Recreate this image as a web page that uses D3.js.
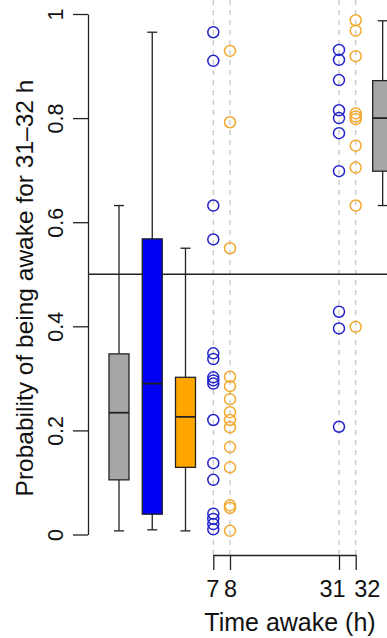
<!DOCTYPE html>
<html>
<head>
<meta charset="utf-8">
<script src="https://cdn.jsdelivr.net/npm/d3@7"></script>
<style>
  html, body { margin: 0; padding: 0; background: #fff; }
  svg { display: block; font-family: "Liberation Sans", Arial, Helvetica, sans-serif; }
</style>
</head>
<body>
<div id="chart"></div>
<script>
'use strict';

// box summaries: [lower whisker, q1, median, q3, upper whisker]
var boxNames = ["all", "blue", "orange", "right"];
var boxPos = [1, 2, 3, 8.93];
var boxStats = [
    [0.007, 0.105, 0.234, 0.347, 0.632],
    [0.009, 0.039, 0.290, 0.568, 0.965],
    [0.007, 0.129, 0.226, 0.302, 0.550],
    [0.632, 0.698, 0.800, 0.872, 0.987]
];
var boxColors = ["#a6a6a6", "#0000f5", "#ffa500", "#a6a6a6"];

// individual points at each time awake
var blue7 = [0.965, 0.910, 0.632, 0.567, 0.348, 0.337, 0.302, 0.296, 0.290, 0.220, 0.137, 0.105, 0.040, 0.030, 0.020, 0.010];
var orange8 = [0.929, 0.792, 0.550, 0.303, 0.285, 0.260, 0.235, 0.220, 0.206, 0.168, 0.129, 0.056, 0.051, 0.007];
var blue31 = [0.931, 0.912, 0.873, 0.815, 0.800, 0.771, 0.698, 0.428, 0.396, 0.207];
var orange32 = [0.988, 0.968, 0.919, 0.809, 0.803, 0.798, 0.747, 0.705, 0.632, 0.399];

var timeTicks = [7, 8, 31, 32];
var probTicks = [0, 0.2, 0.4, 0.6, 0.8, 1];
var threshold = 0.5;

(function() {
    var width = 387, height = 638;
    var blueStroke = "#2424cc", orangeStroke = "#f2a930";

    var svg = d3.select("#chart").append("svg")
        .attr("width", width)
        .attr("height", height);

    var y = d3.scaleLinear().domain([0, 1]).range([534.5, 14]);
    // time axis is not linear in the original figure
    var x = d3.scaleLinear().domain(timeTicks).range([213.3, 230, 339, 355.7]);
    var bx = d3.scaleLinear().domain([1, 3]).range([119, 185.5]);
    var boxW = 20, capW = 10;

    // dashed guides at each time
    svg.append("g").selectAll("line")
        .data(timeTicks)
        .enter().append("line")
        .attr("x1", d => x(d)).attr("x2", d => x(d))
        .attr("y1", 0).attr("y2", 555)
        .attr("stroke", "#c4c4c4")
        .attr("stroke-width", 1.2)
        .attr("stroke-dasharray", "5,5");

    // 0.5 reference line
    svg.append("line")
        .attr("x1", 88).attr("x2", width)
        .attr("y1", y(threshold)).attr("y2", y(threshold))
        .attr("stroke", "#222").attr("stroke-width", 1.3);

    // boxplots
    var boxes = svg.append("g").selectAll("g")
        .data(boxStats)
        .enter().append("g")
        .attr("transform", (d, i) => "translate(" + bx(boxPos[i]) + ",0)");

    boxes.append("line")
        .attr("x1", 0).attr("x2", 0)
        .attr("y1", d => y(d[0])).attr("y2", d => y(d[4]))
        .attr("stroke", "#222").attr("stroke-width", 1.3);
    boxes.selectAll(".cap")
        .data(d => [d[0], d[4]])
        .enter().append("line")
        .attr("x1", -capW / 2).attr("x2", capW / 2)
        .attr("y1", d => y(d)).attr("y2", d => y(d))
        .attr("stroke", "#222").attr("stroke-width", 1.3);
    boxes.append("rect")
        .attr("x", -boxW / 2).attr("width", boxW)
        .attr("y", d => y(d[3]))
        .attr("height", d => y(d[1]) - y(d[3]))
        .attr("fill", (d, i) => boxColors[i])
        .attr("stroke", "#222").attr("stroke-width", 1.3);
    boxes.append("line")
        .attr("x1", -boxW / 2).attr("x2", boxW / 2)
        .attr("y1", d => y(d[2])).attr("y2", d => y(d[2]))
        .attr("stroke", "#222").attr("stroke-width", 1.8);

    // points
    var groups = [
        { t: 7, vals: blue7, c: blueStroke },
        { t: 8, vals: orange8, c: orangeStroke },
        { t: 31, vals: blue31, c: blueStroke },
        { t: 32, vals: orange32, c: orangeStroke }
    ];
    groups.forEach(function(g) {
        svg.append("g").selectAll("circle")
            .data(g.vals)
            .enter().append("circle")
            .attr("cx", x(g.t))
            .attr("cy", d => y(d))
            .attr("r", 5.5)
            .attr("fill", "none")
            .attr("stroke", g.c)
            .attr("stroke-width", 1.5);
    });

    // y axis
    var yAxis = svg.append("g")
        .attr("transform", "translate(88,0)")
        .call(d3.axisLeft(y).tickValues(probTicks).tickSize(15).tickSizeOuter(0)
            .tickFormat(d3.format("~g")));
    yAxis.selectAll("path, line").attr("stroke", "#222").attr("stroke-width", 1.3);
    yAxis.selectAll("text")
        .attr("x", null).attr("dy", null)
        .attr("transform", "translate(-25,0) rotate(-90)")
        .attr("text-anchor", "middle")
        .attr("font-size", 21.5)
        .attr("font-family", null)
        .attr("fill", "#111");

    // x axis
    var labelShift = { 7: -1, 8: 0, 31: -7, 32: 11 };
    var xAxis = svg.append("g")
        .attr("transform", "translate(0,555)")
        .call(d3.axisBottom(x).tickValues(timeTicks).tickSize(15).tickSizeOuter(0)
            .tickFormat(d3.format("d")));
    xAxis.selectAll("path, line").attr("stroke", "#222").attr("stroke-width", 1.3);
    xAxis.selectAll("text")
        .attr("y", 42).attr("dy", null)
        .attr("dx", d => labelShift[d])
        .attr("font-size", 23.5)
        .attr("font-family", null)
        .attr("fill", "#111");

    // axis titles
    svg.append("text")
        .attr("transform", "translate(33,288) rotate(-90)")
        .attr("text-anchor", "middle")
        .attr("font-size", 24.5)
        .attr("fill", "#111")
        .text("Probability of being awake for 31–32 h");

    svg.append("text")
        .attr("x", 290).attr("y", 631)
        .attr("text-anchor", "middle")
        .attr("font-size", 25)
        .attr("fill", "#111")
        .text("Time awake (h)");
})();
</script>
</body>
</html>
